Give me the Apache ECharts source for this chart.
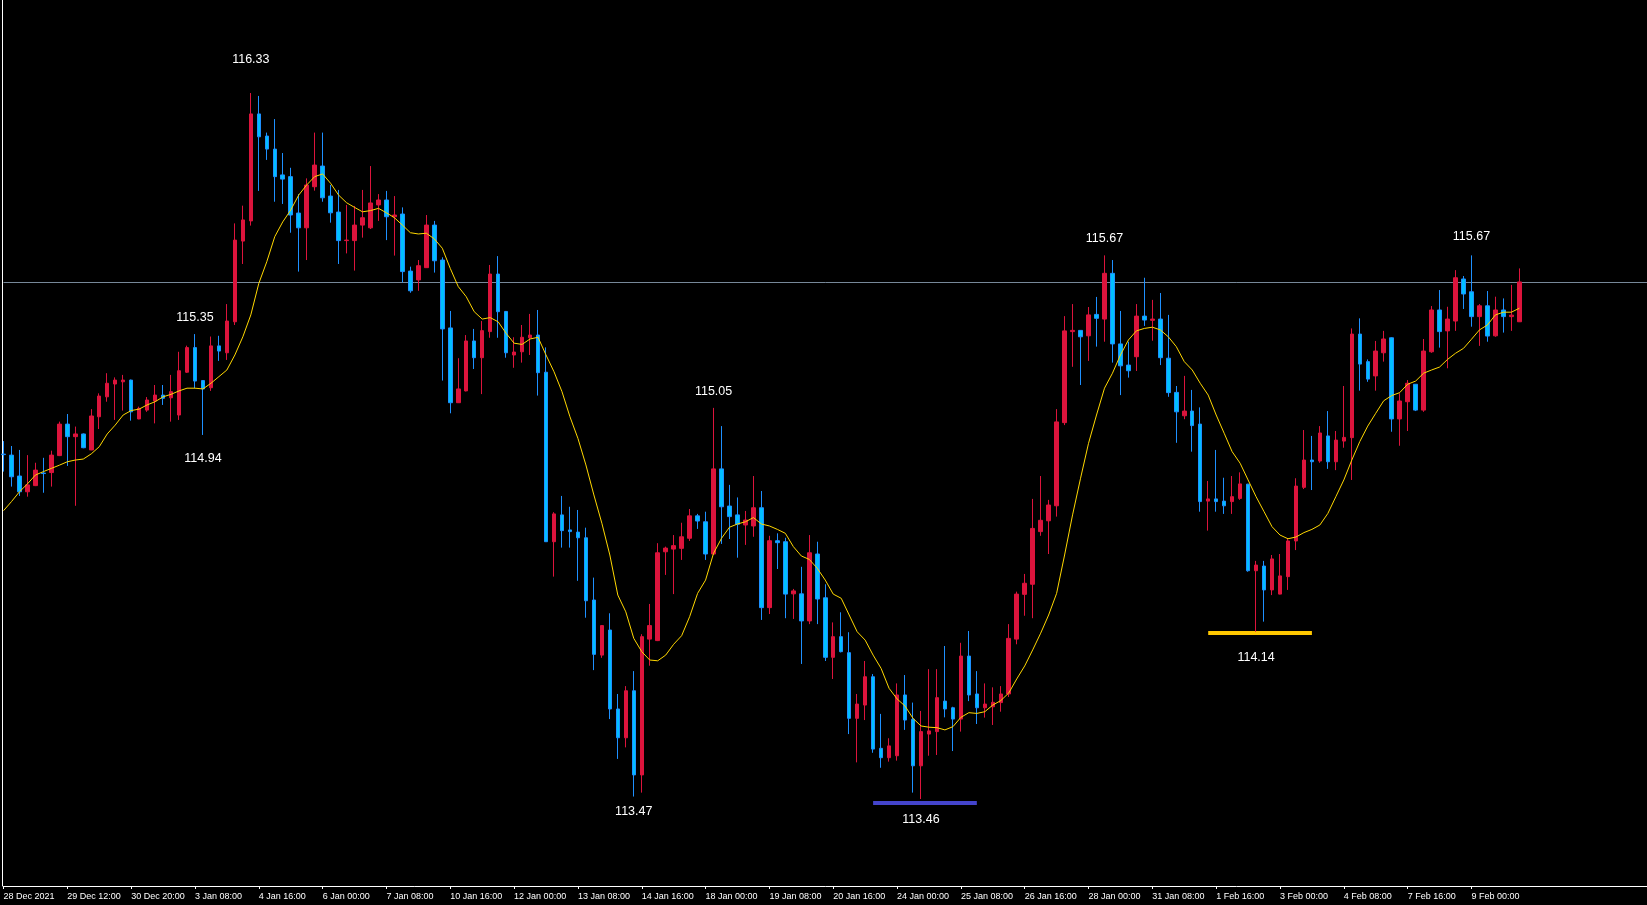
<!DOCTYPE html>
<html>
<head>
<meta charset="utf-8">
<script src="https://cdn.jsdelivr.net/npm/echarts@6/dist/echarts.min.js"></script>
<style>
html,body{margin:0;padding:0;background:#000;}
#chart{width:1647px;height:905px;}
</style>
</head>
<body>
<div id="chart"></div>
<script>
// ---- DATA (USDJPY H4) ----
const tickLabels = ['28 Dec 2021','29 Dec 12:00','30 Dec 20:00','3 Jan 08:00','4 Jan 16:00','6 Jan 00:00','7 Jan 08:00','10 Jan 16:00','12 Jan 00:00','13 Jan 08:00','14 Jan 16:00','18 Jan 00:00','19 Jan 08:00','20 Jan 16:00','24 Jan 00:00','25 Jan 08:00','26 Jan 16:00','28 Jan 00:00','31 Jan 08:00','1 Feb 16:00','3 Feb 00:00','4 Feb 08:00','7 Feb 16:00','9 Feb 00:00'];

const opens = [114.862,114.858,114.773,114.709,114.734,114.785,114.787,114.856,114.984,114.933,
114.944,114.879,115.014,115.095,115.147,115.156,115.163,115.005,115.041,115.078,
115.102,115.091,115.021,115.195,115.295,115.161,115.132,115.302,115.274,115.400,
115.728,115.810,116.245,116.155,116.102,115.997,115.990,115.842,115.782,115.949,
116.033,115.911,115.846,115.730,115.730,115.793,115.782,115.875,115.895,115.827,
115.838,115.606,115.570,115.620,115.793,115.651,115.375,115.071,115.119,115.322,
115.254,115.360,115.594,115.442,115.265,115.278,115.335,115.346,115.195,114.506,
114.615,114.554,114.545,114.522,114.269,114.045,114.147,113.826,113.709,113.900,
113.558,114.110,114.104,114.465,114.476,114.479,114.520,114.611,114.587,114.456,
114.802,114.651,114.615,114.574,114.570,114.644,114.238,114.510,114.506,114.294,
114.294,114.184,114.456,114.278,114.036,114.120,114.055,113.788,113.842,113.957,
113.666,113.628,113.636,113.883,113.784,113.595,113.724,113.734,113.858,113.831,
113.785,114.041,113.887,113.831,113.835,113.852,113.887,114.110,114.292,114.333,
114.547,114.591,114.652,114.990,115.360,115.365,115.343,115.430,115.411,115.597,
115.310,115.224,115.258,115.423,115.406,115.411,115.252,115.113,115.018,115.037,
114.984,114.671,114.680,114.671,114.669,114.682,114.740,114.388,114.407,114.310,
114.293,114.364,114.509,114.727,114.838,114.834,114.936,114.831,114.915,114.929,
115.350,115.238,115.180,115.274,115.335,115.005,115.075,115.146,115.041,115.278,
115.448,115.363,115.403,115.574,115.522,115.421,115.465,115.343,115.448,115.421,
115.400];

const highs = [114.915,114.895,114.879,114.858,114.827,114.847,114.876,114.994,115.025,114.974,
114.946,115.045,115.109,115.191,115.174,115.184,115.165,115.055,115.094,115.143,
115.143,115.184,115.278,115.303,115.350,115.163,115.340,115.343,115.472,115.800,
115.872,116.330,116.318,116.169,116.224,116.086,116.026,115.919,115.983,116.169,
116.169,115.956,115.936,115.875,115.871,115.936,116.033,115.919,115.932,115.911,
115.865,115.624,115.651,115.834,115.810,115.662,115.444,115.252,115.346,115.371,
115.403,115.631,115.667,115.444,115.337,115.387,115.432,115.448,115.296,114.626,
114.692,114.648,114.635,114.563,114.360,114.167,114.215,113.887,113.919,113.980,
114.130,114.253,114.500,114.486,114.533,114.583,114.639,114.619,114.628,115.050,
114.976,114.737,114.686,114.631,114.773,114.712,114.530,114.540,114.522,114.314,
114.404,114.533,114.506,114.333,114.178,114.219,114.138,113.887,114.021,113.968,
113.806,113.707,113.930,113.964,113.852,113.818,113.988,113.988,114.082,113.835,
114.095,114.143,113.980,113.930,113.914,113.919,114.171,114.303,114.375,114.680,
114.773,114.676,115.045,115.423,115.472,115.366,115.460,115.501,115.670,115.651,
115.444,115.319,115.472,115.579,115.489,115.517,115.428,115.139,115.180,115.123,
115.052,114.753,114.879,114.766,114.773,114.788,114.741,114.428,114.428,114.452,
114.456,114.520,114.764,114.960,114.936,114.976,115.037,114.956,115.139,115.373,
115.414,115.247,115.322,115.363,115.337,115.109,115.163,115.147,115.330,115.464,
115.529,115.461,115.610,115.586,115.670,115.472,115.525,115.502,115.495,115.550,
115.617];

const lows = [114.791,114.730,114.692,114.689,114.732,114.705,114.730,114.854,114.814,114.652,
114.886,114.878,114.964,115.075,115.001,115.039,114.998,115.004,115.034,114.987,
115.062,114.994,115.001,115.192,115.130,114.940,115.119,115.241,115.245,115.387,
115.635,115.791,115.932,116.058,115.888,115.879,115.762,115.604,115.651,115.933,
115.888,115.803,115.635,115.678,115.608,115.742,115.777,115.810,115.732,115.669,
115.560,115.518,115.526,115.619,115.600,115.161,115.028,115.070,115.117,115.208,
115.106,115.335,115.335,115.254,115.213,115.234,115.265,115.100,114.505,114.364,
114.482,114.482,114.347,114.197,113.984,114.034,113.785,113.623,113.670,113.470,
113.486,114.002,114.102,114.371,114.293,114.432,114.509,114.558,114.432,114.452,
114.497,114.517,114.441,114.493,114.526,114.188,114.212,114.395,114.195,114.192,
114.009,114.171,114.171,114.021,113.948,114.056,113.724,113.609,113.781,113.648,
113.587,113.612,113.616,113.741,113.486,113.460,113.636,113.639,113.792,113.655,
113.734,113.858,113.765,113.791,113.761,113.815,113.875,114.089,114.205,114.195,
114.530,114.456,114.608,114.980,115.217,115.143,115.241,115.299,115.319,115.234,
115.102,115.173,115.200,115.383,115.323,115.224,115.095,114.908,115.004,114.872,
114.628,114.551,114.628,114.619,114.619,114.676,114.384,114.140,114.181,114.289,
114.292,114.310,114.472,114.720,114.716,114.827,114.802,114.797,114.888,114.757,
115.120,115.156,115.120,115.238,114.953,114.896,114.956,115.037,115.034,115.274,
115.295,115.211,115.363,115.452,115.380,115.302,115.319,115.339,115.356,115.363,
115.399];

const closes = [114.860,114.770,114.709,114.737,114.797,114.783,114.858,114.984,114.933,114.944,
114.888,115.017,115.098,115.150,115.163,115.163,115.034,115.048,115.082,115.102,
115.089,115.116,115.201,115.295,115.159,115.127,115.302,115.281,115.403,115.732,
115.814,116.245,116.152,116.102,115.990,115.980,115.834,115.782,115.956,116.037,
115.904,115.843,115.730,115.732,115.793,115.823,115.883,115.895,115.827,115.834,
115.604,115.526,115.628,115.793,115.648,115.371,115.071,115.127,115.322,115.254,
115.364,115.594,115.441,115.274,115.277,115.337,115.346,115.193,114.506,114.619,
114.551,114.547,114.522,114.266,114.048,114.165,113.826,113.709,113.900,113.558,
114.120,114.165,114.461,114.480,114.490,114.526,114.611,114.590,114.456,114.802,
114.648,114.608,114.577,114.594,114.644,114.238,114.510,114.502,114.293,114.306,
114.184,114.461,114.273,114.036,114.120,114.059,113.788,113.846,113.957,113.663,
113.628,113.676,113.883,113.781,113.595,113.734,113.737,113.872,113.826,113.785,
114.041,113.883,113.831,113.846,113.853,113.887,114.113,114.293,114.337,114.560,
114.593,114.655,114.993,115.363,115.365,115.339,115.428,115.414,115.597,115.310,
115.221,115.201,115.423,115.407,115.411,115.254,115.112,115.034,115.037,114.978,
114.669,114.680,114.669,114.652,114.689,114.741,114.388,114.411,114.310,114.436,
114.367,114.509,114.732,114.838,114.831,114.948,114.831,114.919,114.930,115.350,
115.228,115.167,115.281,115.330,115.005,115.078,115.150,115.041,115.281,115.448,
115.360,115.411,115.579,115.513,115.421,115.465,115.342,115.448,115.421,115.427,
115.562];

const maValues = [114.632,114.669,114.709,114.741,114.777,114.791,114.804,114.817,114.831,114.838,
114.842,114.863,114.892,114.944,114.980,115.021,115.039,115.045,115.062,115.075,
115.095,115.105,115.119,115.130,115.130,115.127,115.150,115.177,115.204,115.265,
115.339,115.428,115.556,115.644,115.746,115.806,115.854,115.915,115.956,115.990,
116.001,115.963,115.915,115.884,115.865,115.847,115.852,115.861,115.843,115.823,
115.793,115.762,115.757,115.760,115.737,115.699,115.617,115.543,115.502,115.441,
115.411,115.417,115.400,115.353,115.313,115.308,115.330,115.337,115.265,115.197,
115.116,115.014,114.926,114.818,114.696,114.581,114.452,114.289,114.221,114.113,
114.059,114.025,114.022,114.045,114.089,114.124,114.201,114.296,114.350,114.459,
114.520,114.565,114.578,114.587,114.604,114.578,114.570,114.556,114.540,114.486,
114.448,114.434,114.398,114.350,114.293,114.276,114.208,114.140,114.106,114.045,
113.991,113.910,113.867,113.838,113.788,113.757,113.752,113.750,113.741,113.754,
113.792,113.811,113.808,113.815,113.842,113.860,113.891,113.948,114.001,114.066,
114.134,114.208,114.296,114.452,114.615,114.764,114.906,115.021,115.130,115.191,
115.265,115.326,115.363,115.373,115.378,115.367,115.339,115.299,115.238,115.204,
115.150,115.102,115.021,114.947,114.872,114.825,114.757,114.689,114.628,114.567,
114.533,114.518,114.525,114.543,114.556,114.574,114.621,114.689,114.757,114.838,
114.913,114.976,115.028,115.079,115.100,115.112,115.146,115.159,115.191,115.204,
115.216,115.247,115.272,115.292,115.329,115.367,115.387,115.428,115.439,115.439,
115.455];

// text annotations: [bar index, anchor price, text]
const annoBars   = [31, 24, 25, 89, 79, 115, 138, 157, 184];
const annoPrices = [116.468, 115.419, 114.846, 115.115, 113.411, 113.378, 115.739, 114.035, 115.747];
const annoTexts  = ['116.33','115.35','114.94','115.05','113.47','113.46','115.67','114.14','115.67'];

// horizontal marker segments: [startBar, endBar, price]
const blueSeg   = [109, 122, 113.444];
const yellowSeg = [151, 164, 114.135];

const extraSlots = 16; // empty bars to the right of the last candle
// ---- END DATA ----

const N = opens.length + extraSlots;
const categories = [];
for (let i = 0; i < N; i++) categories.push(String(i));
const candleData = opens.map((o, i) => [o, closes[i], lows[i], highs[i]]);
const lastClose = closes[closes.length - 1];

const chart = echarts.init(document.getElementById('chart'), null, {renderer: 'canvas'});
const tickShow = (idx) => idx % 8 === 0 && (idx / 8) < tickLabels.length;

chart.setOption({
  backgroundColor: '#000000',
  animation: false,
  grid: {left: 3.5, top: 0, width: 8 * (N - 1), height: 886, containLabel: false},
  xAxis: {
    type: 'category',
    data: categories,
    boundaryGap: false,
    axisLine: {show: true, lineStyle: {color: '#ffffff', width: 1}},
    axisTick: {show: true, interval: tickShow, length: 3, lineStyle: {color: '#ffffff'}},
    axisLabel: {
      show: true, interval: tickShow, color: '#ffffff', fontSize: 9,
      fontFamily: 'Liberation Sans, Arial, sans-serif', align: 'left', margin: 6,
      hideOverlap: false,
      formatter: (v, idx) => tickLabels[Math.round(idx / 8)] || ''
    },
    splitLine: {show: false}
  },
  yAxis: {
    type: 'value',
    min: 113.10642, max: 116.70805,
    position: 'left', offset: 1.5,
    axisLine: {show: true, lineStyle: {color: '#ffffff', width: 1}},
    axisTick: {show: false}, axisLabel: {show: false}, splitLine: {show: false}
  },
  series: [
    {
      type: 'candlestick',
      data: candleData,
      barWidth: 4,
      z: 3,
      itemStyle: {
        color: '#DC143C', color0: '#00BFFF',
        borderColor: '#DC143C', borderColor0: '#1E90FF', borderWidth: 1
      },
      markLine: {
        silent: true, symbol: ['none', 'none'], label: {show: false}, z: 1,
        data: [
          {yAxis: lastClose, lineStyle: {color: '#778899', width: 1, type: 'solid'}},
          [{coord: [blueSeg[0], blueSeg[2]], lineStyle: {color: '#4444CC', width: 4, type: 'solid'}},
           {coord: [blueSeg[1], blueSeg[2]]}],
          [{coord: [yellowSeg[0], yellowSeg[2]], lineStyle: {color: '#FFC800', width: 4, type: 'solid'}},
           {coord: [yellowSeg[1], yellowSeg[2]]}]
        ]
      }
    },
    {
      type: 'line',
      data: maValues,
      z: 4,
      showSymbol: false,
      symbol: 'none',
      lineStyle: {color: '#FFD700', width: 1},
      markPoint: {
        silent: true,
        symbol: 'rect', symbolSize: 1,
        itemStyle: {color: 'rgba(0,0,0,0)'},
        label: {
          show: true, position: 'inside', color: '#ffffff', fontSize: 12.5,
          fontFamily: 'Liberation Sans, Arial, sans-serif',
          formatter: (p) => p.name
        },
        data: annoTexts.map((t, i) => ({name: t, coord: [annoBars[i], annoPrices[i]]}))
      }
    }
  ]
});
</script>
</body>
</html>
